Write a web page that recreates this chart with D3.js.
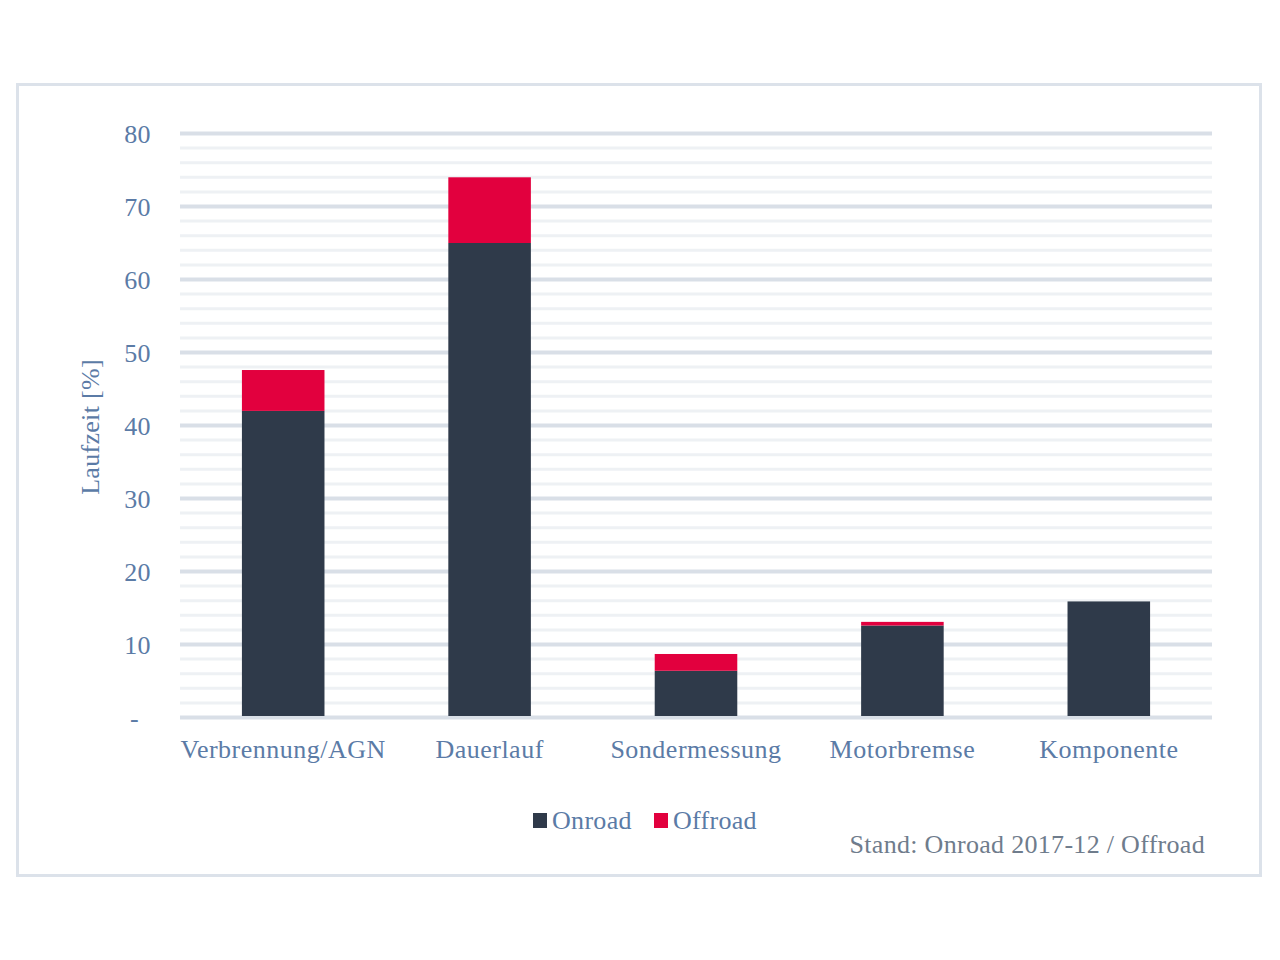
<!DOCTYPE html>
<html><head><meta charset="utf-8">
<script src="https://cdn.jsdelivr.net/npm/d3@7"></script>
<style>body{margin:0;background:#fff}svg{display:block}</style>
</head><body>
<svg id="c" width="1280" height="960"></svg>
<script>
const categories = ["Verbrennung/AGN","Dauerlauf","Sondermessung","Motorbremse","Komponente"];
const onroad = [42, 65, 6.4, 12.6, 15.9];
const offroad = [5.6, 9, 2.3, 0.5, 0];
const seriesNames = ["Onroad","Offroad"];
const yMajorTicks = [0,10,20,30,40,50,60,70,80];
const yTickLabels = ["-","10","20","30","40","50","60","70","80"];

(function(){
const svg = d3.select("#c");
const font = "'Liberation Serif','Times New Roman',serif";
const textCol = "#5b7ba6";
const colors = ["#2f3a4a","#e2003e"];

svg.append("rect").attr("x",17.5).attr("y",84.5).attr("width",1243).attr("height",791)
  .attr("fill","none").attr("stroke","#dce2ea").attr("stroke-width",3);

const pLeft=180, pRight=1212, pTop=133.5, pBottom=717.5;
const x = d3.scaleBand().domain(categories).range([pLeft,pRight]).paddingInner(0.6).paddingOuter(0.3);
const y = d3.scaleLinear().domain([0,80]).range([pBottom,pTop]);

const minor = d3.range(0,81,2).filter(v=>v%10!==0);
svg.append("g").selectAll("line").data(minor).join("line")
  .attr("x1",pLeft).attr("x2",pRight).attr("y1",d=>y(d)).attr("y2",d=>y(d))
  .attr("stroke","#eef1f4").attr("stroke-width",3);
svg.append("g").selectAll("line").data(yMajorTicks).join("line")
  .attr("x1",pLeft).attr("x2",pRight).attr("y1",d=>y(d)).attr("y2",d=>y(d))
  .attr("stroke","#d9dfe7").attr("stroke-width",4);

svg.append("g").selectAll("text").data(yMajorTicks).join("text")
  .attr("x",d=>d===0?139:151).attr("y",d=>y(d)+9).attr("text-anchor","end")
  .attr("font-family",font).attr("font-size",26).attr("letter-spacing",0.4).attr("fill",textCol)
  .text((d,i)=>yTickLabels[i]);

const stackData = categories.map((c,i)=>({cat:c,Onroad:onroad[i],Offroad:offroad[i]}));
const stacked = d3.stack().keys(seriesNames)(stackData);
svg.append("g").selectAll("g").data(stacked).join("g").attr("fill",(d,i)=>colors[i])
  .selectAll("rect").data(d=>d.filter(s=>s[1]-s[0]>0)).join("rect")
  .attr("x",d=>x(d.data.cat)).attr("width",x.bandwidth())
  .attr("y",d=>y(d[1])).attr("height",d=>y(d[0])-y(d[1]) - (d[0]===0?1.5:0));

svg.append("g").selectAll("text").data(categories).join("text")
  .attr("x",d=>x(d)+x.bandwidth()/2).attr("y",758).attr("text-anchor","middle")
  .attr("font-family",font).attr("font-size",26).attr("letter-spacing",0.5).attr("fill",textCol).text(d=>d);

svg.append("text").attr("transform","translate(99,427) rotate(-90)").attr("text-anchor","middle")
  .attr("font-family",font).attr("font-size",26).attr("letter-spacing",0.3).attr("fill",textCol).text("Laufzeit [%]");

const lg = svg.append("g");
const legX = [533, 654];
seriesNames.forEach((s,i)=>{
  lg.append("rect").attr("x",legX[i]).attr("y",813).attr("width",14).attr("height",15).attr("fill",colors[i]);
  lg.append("text").attr("x",legX[i]+19).attr("y",829).attr("font-family",font).attr("font-size",26)
    .attr("letter-spacing",0.3).attr("fill",textCol).text(s);
});

svg.append("text").attr("x",1205).attr("y",853).attr("text-anchor","end")
  .attr("font-family",font).attr("font-size",26).attr("letter-spacing",0.3).attr("fill","#6f7c8c").text("Stand: Onroad 2017-12 / Offroad");
})();
</script>
</body></html>
